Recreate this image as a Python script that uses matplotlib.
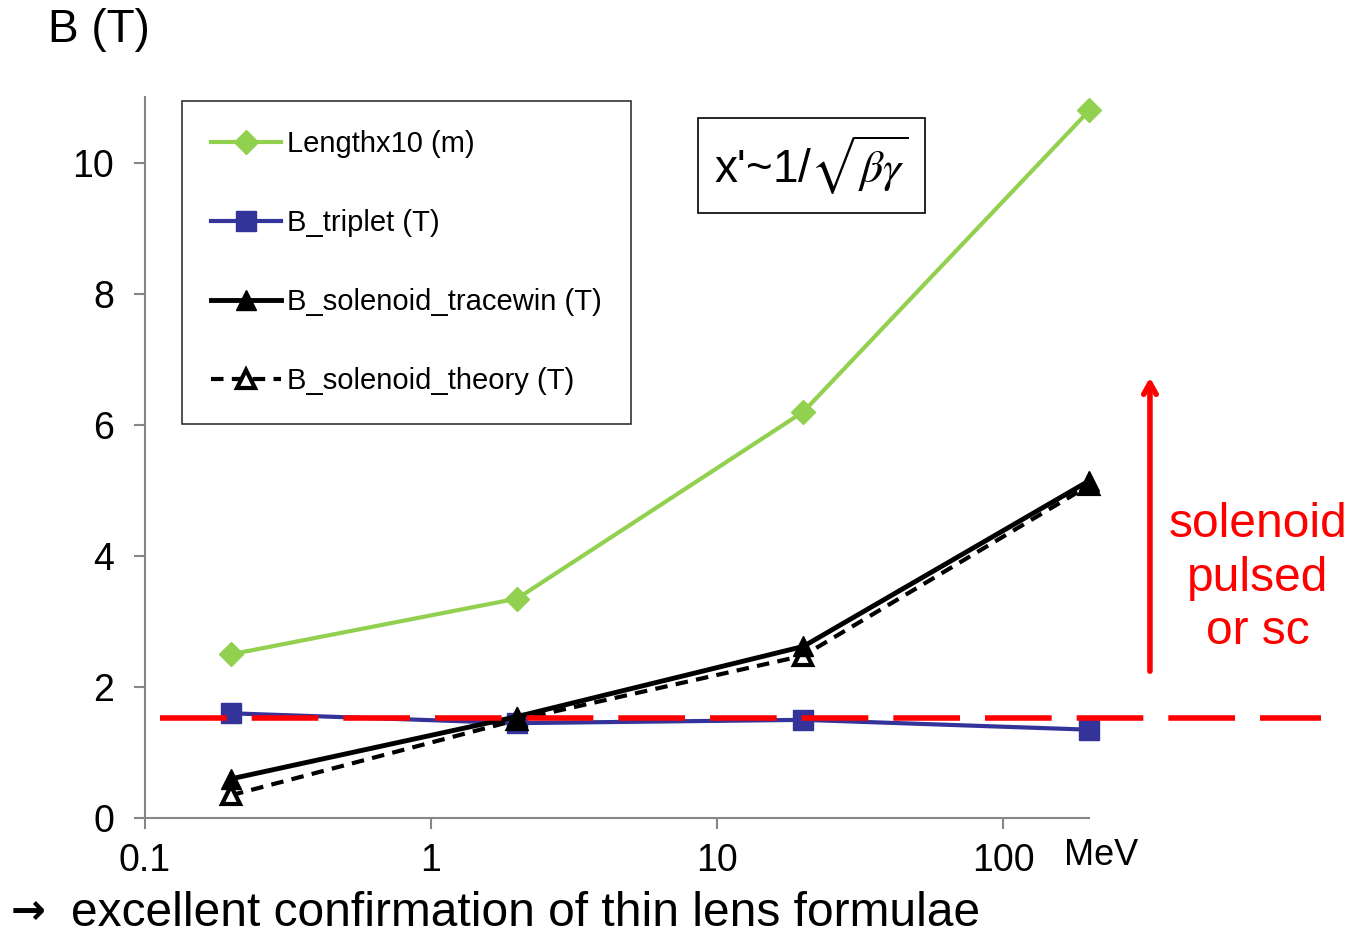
import numpy as np
import matplotlib
matplotlib.use("Agg")
import matplotlib.pyplot as plt

plt.rcParams['font.family'] = ['Liberation Sans', 'DejaVu Sans']
plt.rcParams['mathtext.fontset'] = 'stix'

# Data
energy = [0.2, 2, 20, 200]             # MeV
length_x10 = [2.5, 3.35, 6.2, 10.8]     # m
b_triplet = [1.6, 1.45, 1.5, 1.35]      # T
b_sol_tracewin = [0.6, 1.55, 2.62, 5.15]
b_sol_theory = [0.35, 1.5, 2.48, 5.08]
b_limit = 1.53                          # red dashed level
y_ticks = [0, 2, 4, 6, 8, 10]
x_ticks = [0.1, 1, 10, 100]
x_ticklabels = ['0.1', '1', '10', '100']

fig = plt.figure(figsize=(13.67, 9.34), dpi=100)
ax = fig.add_axes([0.106, 0.124, 0.691, 0.772])

ax.plot(energy, length_x10, color='#92D050', lw=3, marker='D', ms=12,
        label='Lengthx10 (m)', clip_on=False)
ax.plot(energy, b_triplet, color='#333399', lw=3, marker='s', ms=14,
        label='B_triplet (T)', clip_on=False)
ax.plot(energy, b_sol_theory, color='black', lw=3, ls=(0, (3, 2)), marker='^',
        ms=13, mfc='white', mec='black', mew=3, label='B_solenoid_theory (T)',
        clip_on=False, zorder=2.1)
ax.plot(energy, b_sol_tracewin, color='black', lw=3.5, marker='^', ms=14,
        label='B_solenoid_tracewin (T)', clip_on=False, zorder=2.2)

# red limit line, running past the plot area
ax.plot([0.016, 1.245], [b_limit, b_limit], color='red', lw=4,
        ls=(0, (12, 4.5)), transform=ax.get_yaxis_transform(), clip_on=False,
        zorder=2.3)

ax.set_xscale('log')
ax.set_xlim(0.1, 200)
ax.set_ylim(0, 11)
ax.set_xticks(x_ticks)
ax.set_xticklabels(x_ticklabels)
ax.set_yticks(y_ticks)
ax.xaxis.set_minor_locator(matplotlib.ticker.NullLocator())

for s in ['top', 'right']:
    ax.spines[s].set_visible(False)
for s in ['left', 'bottom']:
    ax.spines[s].set_color('#868686')
    ax.spines[s].set_linewidth(1.5)
ax.tick_params(colors='#868686', width=1.5, length=8, labelsize=27,
               labelcolor='black', pad=10)
ax.tick_params(axis='y', pad=14)

# legend in the reference order
h, l = ax.get_legend_handles_labels()
order = [0, 1, 3, 2]
leg = ax.legend([h[i] for i in order], [l[i] for i in order],
                loc='upper left', bbox_to_anchor=(0.039, 0.995), fontsize=21,
                frameon=True, fancybox=False, edgecolor='black',
                handlelength=2.4, labelspacing=1.75, borderpad=1.0,
                handletextpad=0.2, borderaxespad=0)
leg.get_frame().set_linewidth(1.2)

ax.text(0.603, 0.905, "x'~1/$\\sqrt{\\beta\\gamma}$", transform=ax.transAxes,
        fontsize=33, ha='left', va='center',
        bbox=dict(boxstyle='square,pad=0.35', fc='white', ec='black', lw=1.2))

# arrow and note on the right
ax.annotate('', xy=(1.064, 0.615), xytext=(1.064, 0.2),
            xycoords='axes fraction',
            arrowprops=dict(arrowstyle='->,head_length=0.8,head_width=0.45',
                            color='red', lw=4))
ax.text(1.178, 0.333, 'solenoid\npulsed\nor sc', transform=ax.transAxes,
        color='red', fontsize=34.5, ha='center', va='center', linespacing=1.25)

ax.text(1.012, -0.052, 'MeV', transform=ax.transAxes, fontsize=26,
        ha='center', va='center')
fig.text(0.035, 0.968, 'B (T)', fontsize=33, ha='left', va='center')
fig.text(0.008, 0.024, '\u2192', fontsize=30, ha='left', va='center',
         family='DejaVu Sans', fontweight='bold')
fig.text(0.052, 0.022, 'excellent confirmation of thin lens formulae',
         fontsize=34.5, ha='left', va='center')

fig.savefig('out.png', dpi=100)
